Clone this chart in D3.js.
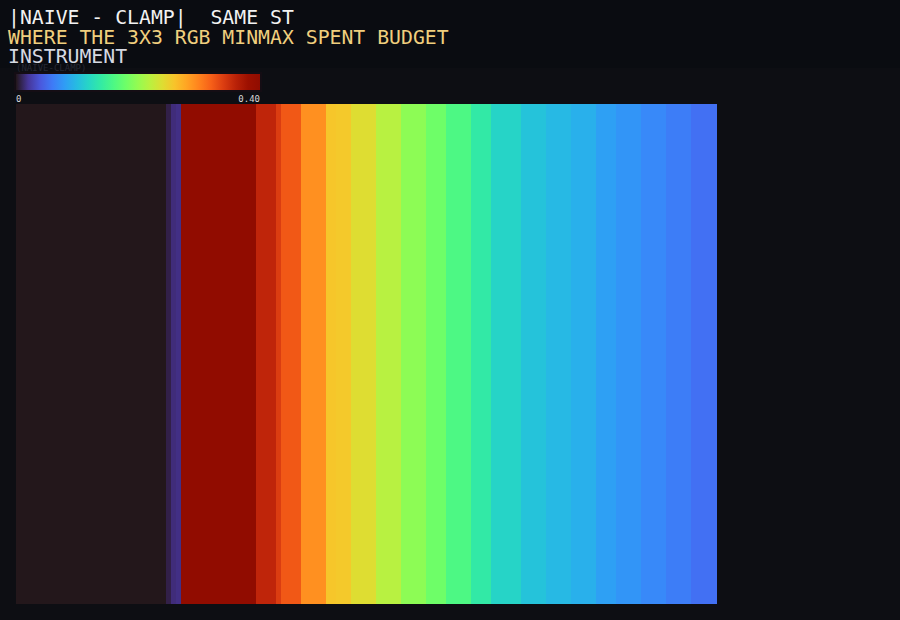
<!DOCTYPE html>
<html><head><meta charset="utf-8">
<script src="https://cdn.jsdelivr.net/npm/d3@7"></script>
<style>html,body{margin:0;padding:0;background:#0d0e13;}svg{display:block;}text{white-space:pre;}</style>
</head><body>
<script>
const titleLines = ["|NAIVE - CLAMP|  SAME ST", "WHERE THE 3X3 RGB MINMAX SPENT BUDGET", "INSTRUMENT"];
const legendLabel = "(NAIVE-CLAMP)";
const colorDomain = [0, 0.40];
const tickLabels = ["0", "0.40"];
const tickValues = [0, 0.40];
// one value per image column (140 columns, left to right)
const columnValues = [
  0,0,0,0,0,0,0,0,0,0, 0,0,0,0,0,0,0,0,0,0, 0,0,0,0,0,0,0,0,0,0,
  0.006, 0.014, 0.016,
  0.395,0.395,0.395,0.395,0.395,0.395,0.395,0.395,0.395,0.395,0.395,0.395,0.395,0.395,
  0.398,
  0.357,0.357,0.357,0.357,
  0.340,
  0.324,0.324,0.324,0.324,
  0.292,0.292,0.292,0.292,0.292,
  0.258,0.258,0.256,0.256,0.256,
  0.240,0.240,0.240,0.240,0.240,
  0.218,0.218,0.218,0.218,0.218,
  0.196,0.196,0.196,0.196,0.196,
  0.180,0.180,0.180,0.180,
  0.160,0.160,0.160,0.160,0.160,
  0.138,0.138,0.138,0.138,
  0.118,0.118,0.118,0.118,0.118,0.118,
  0.105,0.105,0.105,0.105,0.105,
  0.0975,0.0975,0.0975,0.0975,0.0975,
  0.092,0.092,0.092,0.092,0.092,
  0.082,0.082,0.082,0.082,
  0.075,0.075,0.075,0.075,0.075,
  0.068,0.068,0.068,0.068,0.068,
  0.061,0.061,0.061,0.061,0.061,
  0.054,0.054,0.054,0.054,0.054
];
const rows = ["r0"];

const W = 900, H = 620;
const svg = d3.select("body").append("svg").attr("width", W).attr("height", H);
svg.append("rect").attr("width", W).attr("height", H).attr("fill", "#0d0e13");
svg.append("rect").attr("width", W).attr("height", 68).attr("fill", "#0a0c11");

const mono = "'DejaVu Sans Mono', 'Liberation Mono', monospace";
const titleColors = ["#f2f2f2", "#f0cf7e", "#d6d9e2"];
svg.selectAll("text.title").data(titleLines).join("text")
  .attr("class", "title")
  .attr("x", 8).attr("y", (d, i) => 24 + i * 19.5)
  .attr("fill", (d, i) => titleColors[i])
  .attr("font-family", mono).attr("font-size", 19.8)
  .attr("xml:space", "preserve")
  .text(d => d);

svg.append("text").attr("x", 16).attr("y", 71).attr("fill", "#262835")
  .attr("font-family", mono).attr("font-size", 9).text(legendLabel);

const color = d3.scaleSequential(d3.interpolateTurbo).domain(colorDomain);

// colour bar
const defs = svg.append("defs");
const grad = defs.append("linearGradient").attr("id", "cb").attr("x1", "0%").attr("x2", "100%");
d3.range(0, 1.0001, 0.05).forEach(t => grad.append("stop").attr("offset", (t * 100) + "%").attr("stop-color", d3.interpolateTurbo(t)));
const cbScale = d3.scaleLinear().domain(colorDomain).range([16, 260]);
svg.append("rect").attr("x", 14).attr("y", 72).attr("width", 248).attr("height", 20).attr("fill", "#140d14");
svg.append("rect").attr("x", 16).attr("y", 74).attr("width", 244).attr("height", 16).attr("fill", "url(#cb)");
svg.selectAll("text.tick").data(tickValues).join("text")
  .attr("class", "tick")
  .attr("x", d => cbScale(d)).attr("y", 102)
  .attr("text-anchor", (d, i) => i === 0 ? "start" : "end")
  .attr("fill", "#d8d8d8").attr("font-family", mono).attr("font-size", 9)
  .text((d, i) => tickLabels[i]);

// heatmap
const x = d3.scaleBand().domain(d3.range(columnValues.length)).range([16, 716]);
const y = d3.scaleBand().domain(rows).range([104, 604]);
const cells = [];
rows.forEach(r => columnValues.forEach((v, i) => cells.push({r, i, v})));
svg.append("g").selectAll("rect").data(cells).join("rect")
  .attr("x", d => x(d.i)).attr("y", d => y(d.r))
  .attr("width", x.bandwidth() + 0.5).attr("height", y.bandwidth())
  .attr("fill", d => color(d.v))
  .attr("shape-rendering", "crispEdges");
</script>
</body></html>
